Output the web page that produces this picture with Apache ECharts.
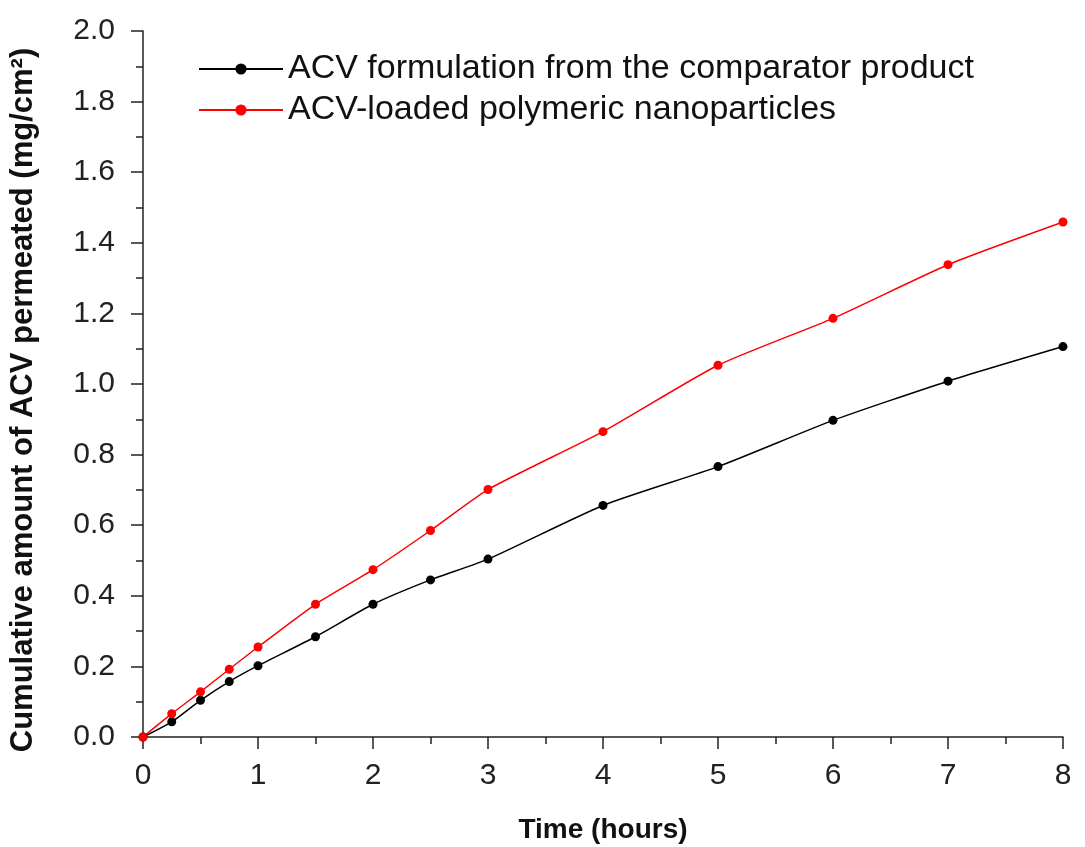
<!DOCTYPE html>
<html>
<head>
<meta charset="utf-8">
<script src="https://cdn.jsdelivr.net/npm/echarts@6/dist/echarts.min.js"></script>
<style>html,body{margin:0;padding:0;background:#fff;}#c{width:1085px;height:847px;}</style>
</head>
<body>
<div id="c"></div>
<script>
const timeHours = [0, 0.25, 0.5, 0.75, 1, 1.5, 2, 2.5, 3, 4, 5, 6, 7, 8];
const comparator = [0, 0.043, 0.104, 0.157, 0.202, 0.284, 0.376, 0.445, 0.504, 0.656, 0.766, 0.897, 1.008, 1.106];
const nanoparticles = [0, 0.066, 0.128, 0.192, 0.255, 0.376, 0.474, 0.585, 0.701, 0.865, 1.053, 1.186, 1.338, 1.459];
const seriesNames = ['ACV formulation from the comparator product', 'ACV-loaded polymeric nanoparticles'];
const xAxisTitle = 'Time (hours)';
const yAxisTitle = 'Cumulative amount of ACV permeated (mg/cm²)';

const pair = (xs, ys) => xs.map((x, i) => [x, ys[i]]);
const font = 'Liberation Sans, Arial, sans-serif';
const chart = echarts.init(document.getElementById('c'), null, {renderer: 'canvas'});
chart.setOption({
  animation: false,
  backgroundColor: '#fff',
  grid: {left: 143, right: 22, top: 31, bottom: 110, containLabel: false, outerBoundsMode: 'none'},
  legend: {
    left: 193, top: 47, orient: 'vertical', itemWidth: 84, itemHeight: 14, itemGap: 7,
    textStyle: {fontFamily: font, fontSize: 34, color: '#111'},
    data: seriesNames
  },
  xAxis: {
    type: 'value', min: 0, max: 8, interval: 1,
    name: xAxisTitle, nameLocation: 'middle', nameGap: 79,
    nameTextStyle: {fontFamily: font, fontSize: 28, fontWeight: 'bold', color: '#111'},
    axisLine: {show: true, lineStyle: {color: '#222', width: 1.5}},
    axisTick: {show: true, inside: false, length: 12, lineStyle: {color: '#222', width: 1.5}},
    minorTick: {show: true, splitNumber: 2, length: 7, lineStyle: {color: '#222', width: 1.5}},
    axisLabel: {fontFamily: font, fontSize: 30, color: '#222', margin: 24},
    splitLine: {show: false}
  },
  yAxis: {
    type: 'value', min: 0, max: 2, interval: 0.2,
    name: yAxisTitle, nameLocation: 'middle', nameGap: 104, nameRotate: 90,
    nameTextStyle: {fontFamily: font, fontSize: 31, fontWeight: 'bold', color: '#111', padding: [0, 32, 0, 0]},
    axisLine: {show: true, lineStyle: {color: '#222', width: 1.5}},
    axisTick: {show: true, inside: false, length: 12, lineStyle: {color: '#222', width: 1.5}},
    minorTick: {show: true, splitNumber: 2, length: 7, lineStyle: {color: '#222', width: 1.5}},
    axisLabel: {fontFamily: font, fontSize: 30, color: '#222', margin: 28, formatter: v => v.toFixed(1)},
    splitLine: {show: false}
  },
  series: [
    {
      name: seriesNames[0], type: 'line', smooth: 0.2,
      data: pair(timeHours, comparator),
      symbol: 'circle', symbolSize: 9,
      itemStyle: {color: '#000'}, lineStyle: {color: '#000', width: 1.5}
    },
    {
      name: seriesNames[1], type: 'line', smooth: 0.2,
      data: pair(timeHours, nanoparticles),
      symbol: 'circle', symbolSize: 9,
      itemStyle: {color: '#ff0000'}, lineStyle: {color: '#ff0000', width: 1.5}
    }
  ]
});
</script>
</body>
</html>
